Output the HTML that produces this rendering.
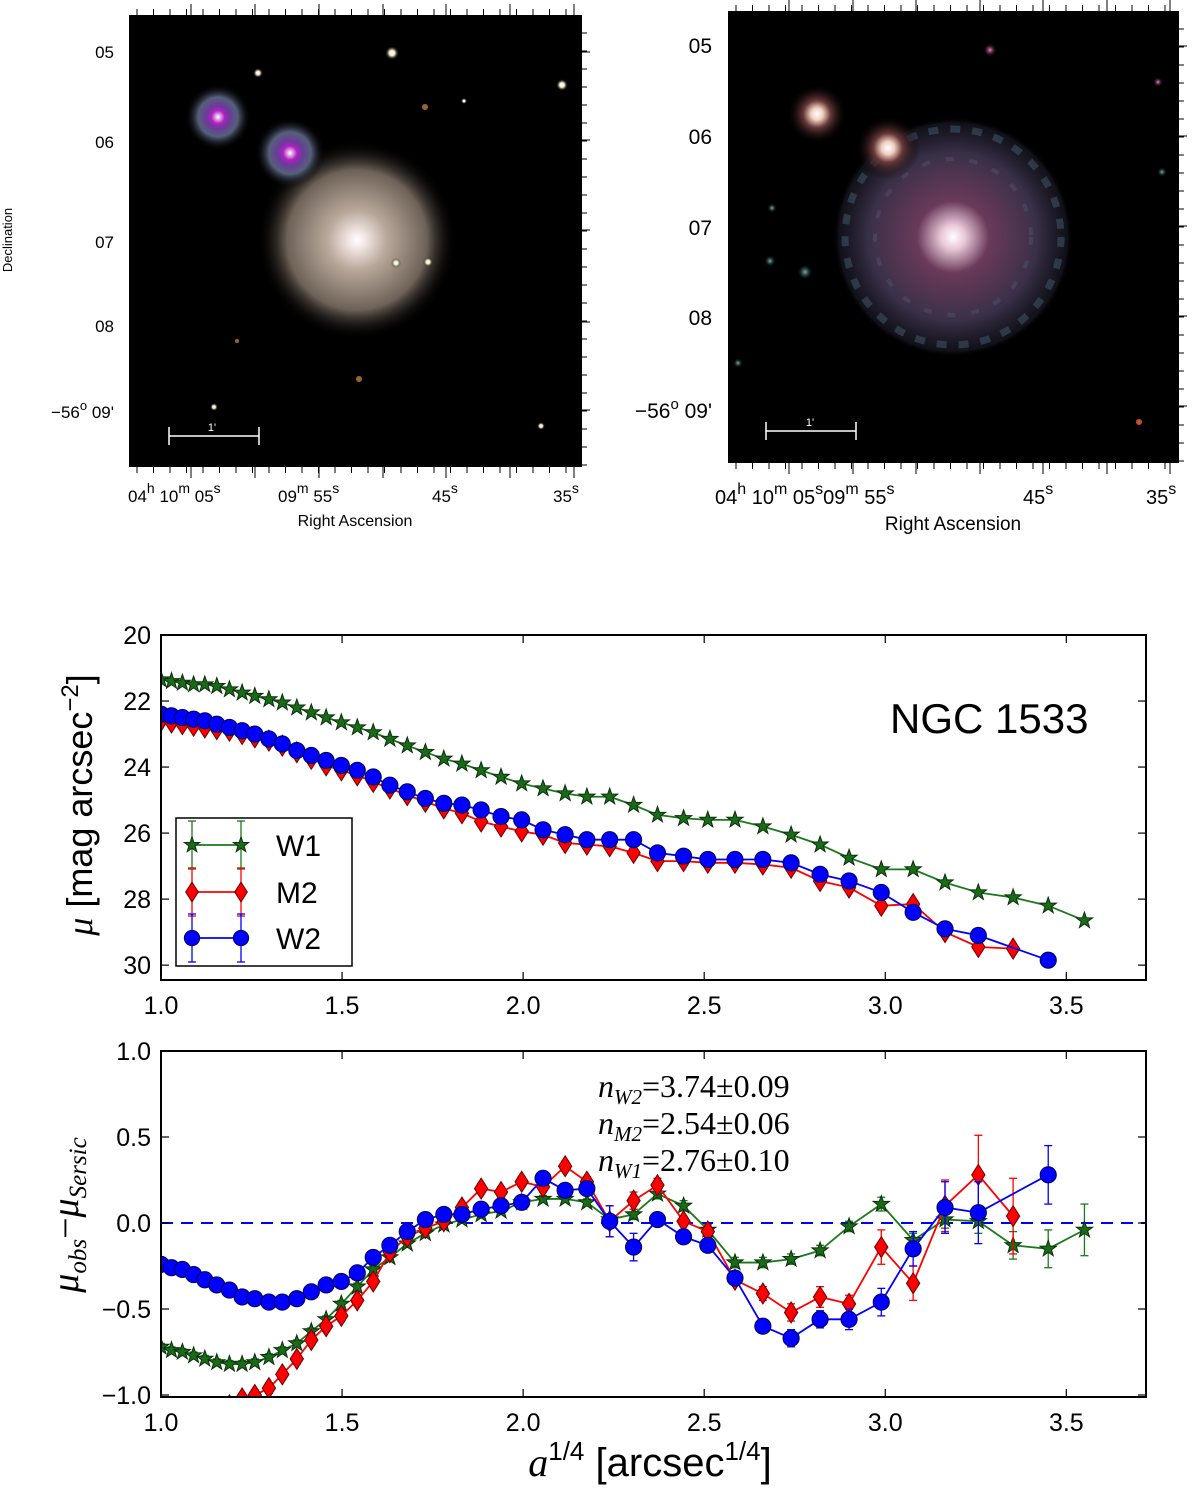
<!DOCTYPE html>
<html><head><meta charset="utf-8"><style>
html,body{margin:0;padding:0;background:#fff;}
svg{display:block;}
text{font-family:"Liberation Sans",sans-serif;}
text.serif{font-family:"Liberation Serif",serif;}
</style></head><body>
<svg id="fig" width="1200" height="1492" viewBox="0 0 1200 1492" xmlns="http://www.w3.org/2000/svg">
<defs>
<radialGradient id="gal1"><stop offset="0" stop-color="#fff"/><stop offset="0.08" stop-color="#f4e8e6"/><stop offset="0.3" stop-color="#b8a89a"/><stop offset="0.7" stop-color="#6e6258"/><stop offset="1" stop-color="#000" stop-opacity="0"/></radialGradient>
<radialGradient id="halo1"><stop offset="0" stop-color="#fff"/><stop offset="0.2" stop-color="#b020c0"/><stop offset="0.35" stop-color="#6a3a9a"/><stop offset="0.6" stop-color="#56607a"/><stop offset="1" stop-color="#000" stop-opacity="0"/></radialGradient>
<radialGradient id="star"><stop offset="0" stop-color="#fff"/><stop offset="0.4" stop-color="#f0e8c8"/><stop offset="1" stop-color="#000" stop-opacity="0"/></radialGradient>
<radialGradient id="gal2"><stop offset="0" stop-color="#fff"/><stop offset="0.1" stop-color="#e8c8d8"/><stop offset="0.3" stop-color="#6a3a5a"/><stop offset="0.7" stop-color="#3a3048"/><stop offset="0.95" stop-color="#223" stop-opacity="0.5"/><stop offset="1" stop-color="#000" stop-opacity="0"/></radialGradient>
<radialGradient id="halo2"><stop offset="0" stop-color="#fff"/><stop offset="0.2" stop-color="#f0d0c0"/><stop offset="0.45" stop-color="#6a3a3a"/><stop offset="1" stop-color="#000" stop-opacity="0"/></radialGradient>
<radialGradient id="mag"><stop offset="0" stop-color="#ff80d0"/><stop offset="1" stop-color="#000" stop-opacity="0"/></radialGradient>
<radialGradient id="teal"><stop offset="0" stop-color="#7ab8b0"/><stop offset="1" stop-color="#000" stop-opacity="0"/></radialGradient>
<clipPath id="clipTop"><rect x="161" y="635" width="985" height="345"/></clipPath>
<clipPath id="clipBot"><rect x="161" y="1051" width="985" height="346"/></clipPath>
</defs>

<g>
<rect x="129" y="15" width="453" height="452" fill="#000"/>
<circle cx="357" cy="240" r="100" fill="url(#gal1)"/>
<circle cx="218" cy="117" r="33" fill="url(#halo1)"/>
<circle cx="290" cy="153" r="35" fill="url(#halo1)"/>
<circle cx="392" cy="53" r="7" fill="url(#star)"/>
<circle cx="258" cy="73" r="5" fill="url(#star)"/>
<circle cx="562" cy="85" r="6" fill="url(#star)"/>
<circle cx="396" cy="263" r="5" fill="url(#star)"/>
<circle cx="428" cy="262" r="5" fill="url(#star)"/>
<circle cx="464" cy="101" r="3" fill="url(#star)"/>
<circle cx="425" cy="107" r="3" fill="#a06030"/>
<circle cx="237" cy="341" r="2" fill="#a06030"/>
<circle cx="359" cy="379" r="3" fill="#a06030"/>
<circle cx="214" cy="407" r="4" fill="url(#star)"/>
<circle cx="541" cy="426" r="4" fill="url(#star)"/>
<g stroke="#fff" stroke-width="1.5"><line x1="169" y1="436" x2="259" y2="436"/><line x1="169" y1="427" x2="169" y2="445"/><line x1="259" y1="427" x2="259" y2="445"/></g>
<text x="212" y="431" fill="#fff" font-size="11" text-anchor="middle">1'</text>
<g id="ticksL" stroke="#000" stroke-width="1"></g>
<g font-size="17" fill="#000" text-anchor="end">
<text x="114" y="58">05</text><text x="114" y="148">06</text><text x="114" y="248">07</text><text x="114" y="332">08</text><text x="114" y="418">−56<tspan dy="-8" font-size="13">o</tspan><tspan dy="8"> 09'</tspan></text>
</g>
<g font-size="17" fill="#000">
<text x="128" y="502">04<tspan dy="-9" font-size="14">h</tspan><tspan dy="9"> 10</tspan><tspan dy="-9" font-size="14">m</tspan><tspan dy="9"> 05</tspan><tspan dy="-9" font-size="14">s</tspan></text>
<text x="278" y="502">09<tspan dy="-9" font-size="14">m</tspan><tspan dy="9"> 55</tspan><tspan dy="-9" font-size="14">s</tspan></text>
<text x="432" y="502">45<tspan dy="-9" font-size="14">s</tspan></text>
<text x="553" y="502">35<tspan dy="-9" font-size="14">s</tspan></text>
</g>
<text x="355" y="526" font-size="16" text-anchor="middle">Right Ascension</text>
<text transform="translate(12,240) rotate(-90)" font-size="13" text-anchor="middle">Declination</text>
</g>

<g>
<rect x="728" y="11" width="451" height="452" fill="#000"/>
<circle cx="953" cy="237" r="120" fill="url(#gal2)"/>
<circle cx="953" cy="237" r="108" fill="none" stroke="#5a7a90" stroke-width="7" stroke-dasharray="10 12" opacity="0.35"/>
<circle cx="953" cy="237" r="78" fill="none" stroke="#5a6a88" stroke-width="4" stroke-dasharray="8 16" opacity="0.3"/>
<circle cx="817" cy="114" r="30" fill="url(#halo2)"/>
<circle cx="888" cy="148" r="32" fill="url(#halo2)"/>
<circle cx="990" cy="50" r="7" fill="url(#mag)"/>
<circle cx="1158" cy="82" r="5" fill="url(#mag)"/>
<circle cx="770" cy="261" r="6" fill="url(#teal)"/>
<circle cx="805" cy="272" r="8" fill="url(#teal)"/>
<circle cx="738" cy="363" r="5" fill="url(#teal)"/>
<circle cx="772" cy="208" r="5" fill="url(#teal)"/>
<circle cx="1162" cy="172" r="5" fill="url(#teal)"/>
<circle cx="1139" cy="422" r="3" fill="#c05030"/>
<g stroke="#fff" stroke-width="1.5"><line x1="766" y1="431" x2="856" y2="431"/><line x1="766" y1="422" x2="766" y2="440"/><line x1="856" y1="422" x2="856" y2="440"/></g>
<text x="810" y="426" fill="#fff" font-size="11" text-anchor="middle">1'</text>
<g id="ticksR" stroke="#000" stroke-width="1"></g>
<g font-size="21" fill="#000" text-anchor="end">
<text x="712" y="53">05</text><text x="712" y="144">06</text><text x="712" y="235">07</text><text x="712" y="325">08</text><text x="712" y="418">−56<tspan dy="-9" font-size="15">o</tspan><tspan dy="9">  09'</tspan></text>
</g>
<g font-size="20" fill="#000">
<text x="715" y="504">04<tspan dy="-10" font-size="16">h</tspan><tspan dy="10"> 10</tspan><tspan dy="-10" font-size="16">m</tspan><tspan dy="10"> 05</tspan><tspan dy="-10" font-size="16">s</tspan><tspan dy="10">09</tspan><tspan dy="-10" font-size="16">m</tspan><tspan dy="10"> 55</tspan><tspan dy="-10" font-size="16">s</tspan></text>
<text x="1023" y="504">45<tspan dy="-10" font-size="16">s</tspan></text>
<text x="1146" y="504">35<tspan dy="-10" font-size="16">s</tspan></text>
</g>
<text x="953" y="530" font-size="19" text-anchor="middle">Right Ascension</text>
</g>

<g id="topPlot"></g>
<g id="botPlot"></g>

<text x="890" y="733" font-size="42">NGC 1533</text>
<text transform="translate(92,805) rotate(-90)" font-size="36" text-anchor="middle"><tspan font-family="Liberation Serif" font-style="italic">μ</tspan> [mag arcsec<tspan dy="-14" font-size="24">−2</tspan><tspan dy="14">]</tspan></text>
<text class="serif" transform="translate(78,1215) rotate(-90)" font-size="38" text-anchor="middle" font-style="italic">μ<tspan dy="8" font-size="25">obs</tspan><tspan dy="-8" font-style="normal">−</tspan>μ<tspan dy="8" font-size="25">Sersic</tspan></text>
<text x="650" y="1476" font-size="40" text-anchor="middle"><tspan font-family="Liberation Serif" font-style="italic">a</tspan><tspan dy="-16" font-size="26">1/4</tspan><tspan dy="16"> [arcsec</tspan><tspan dy="-16" font-size="26">1/4</tspan><tspan dy="16">]</tspan></text>
<g font-size="32">
<text class="serif" x="598" y="1097"><tspan font-style="italic">n</tspan><tspan dy="7" font-size="21" font-style="italic">W2</tspan><tspan dy="-7">=3.74±0.09</tspan></text>
<text class="serif" x="598" y="1134"><tspan font-style="italic">n</tspan><tspan dy="7" font-size="21" font-style="italic">M2</tspan><tspan dy="-7">=2.54±0.06</tspan></text>
<text class="serif" x="598" y="1171"><tspan font-style="italic">n</tspan><tspan dy="7" font-size="21" font-style="italic">W1</tspan><tspan dy="-7">=2.76±0.10</tspan></text>
</g>

<g>
<rect x="176" y="818" width="176" height="148" fill="#fff" stroke="#000" stroke-width="1.5"/>
<g id="legendMarks"></g>
<text x="276" y="856" font-size="30">W1</text>
<text x="276" y="903" font-size="30">M2</text>
<text x="276" y="949" font-size="30">W2</text>
</g>
</svg>
<script>
const xs = [1.0,1.029,1.059,1.09,1.121,1.154,1.189,1.224,1.259,1.298,1.335,1.375,1.415,1.456,1.498,1.542,1.586,1.632,1.68,1.73,1.781,1.831,1.884,1.939,1.996,2.055,2.116,2.176,2.239,2.305,2.371,2.443,2.51,2.585,2.662,2.74,2.82,2.90,2.989,3.077,3.165,3.257,3.353,3.45,3.55];
const muW1 = [21.35,21.4,21.45,21.5,21.5,21.55,21.65,21.75,21.85,21.95,22.05,22.2,22.35,22.5,22.65,22.8,22.95,23.15,23.35,23.55,23.75,23.9,24.1,24.3,24.5,24.65,24.8,24.9,24.9,25.15,25.45,25.55,25.6,25.6,25.8,26.05,26.35,26.75,27.1,27.1,27.5,27.8,27.95,28.2,28.65];
const muM2 = [22.6,22.65,22.7,22.75,22.8,22.85,22.9,23.0,23.1,23.2,23.35,23.55,23.75,23.95,24.1,24.25,24.45,24.65,24.85,25.05,25.25,25.4,25.65,25.8,25.95,26.05,26.3,26.35,26.4,26.6,26.85,26.85,26.9,26.9,26.95,27.05,27.45,27.65,28.2,28.15,29.0,29.45,29.5,null,null];
const muW2 = [22.4,22.45,22.5,22.55,22.6,22.7,22.8,22.9,23.0,23.15,23.3,23.5,23.65,23.8,23.95,24.1,24.3,24.55,24.75,24.95,25.1,25.15,25.3,25.5,25.6,25.9,26.05,26.2,26.2,26.2,26.6,26.7,26.8,26.8,26.8,26.9,27.25,27.45,27.8,28.4,28.9,29.1,null,29.85,null];
const resW1 = [-0.72,-0.74,-0.75,-0.77,-0.79,-0.81,-0.82,-0.82,-0.81,-0.78,-0.74,-0.70,-0.63,-0.56,-0.47,-0.37,-0.27,-0.20,-0.12,-0.06,-0.01,0.02,0.05,0.07,0.12,0.14,0.14,0.12,0.02,0.05,0.17,0.10,-0.04,-0.23,-0.23,-0.21,-0.16,-0.02,0.11,-0.10,0.02,0.01,-0.13,-0.15,-0.04];
const errW1 = [0.02,0.02,0.02,0.02,0.02,0.02,0.02,0.02,0.02,0.02,0.02,0.02,0.02,0.02,0.02,0.02,0.02,0.02,0.02,0.02,0.02,0.02,0.02,0.02,0.02,0.02,0.02,0.02,0.03,0.03,0.03,0.03,0.03,0.03,0.03,0.03,0.03,0.03,0.04,0.04,0.05,0.07,0.08,0.11,0.15];
const resM2 = [-1.4,-1.35,-1.3,-1.25,-1.18,-1.12,-1.06,-1.02,-1.0,-0.96,-0.88,-0.79,-0.68,-0.60,-0.54,-0.45,-0.34,-0.17,-0.08,-0.03,0.01,0.09,0.20,0.18,0.24,0.21,0.33,0.24,0.01,0.13,0.22,0.01,-0.05,-0.33,-0.41,-0.52,-0.43,-0.47,-0.14,-0.35,0.10,0.28,0.04,null,null];
const errM2 = [0.03,0.03,0.03,0.03,0.03,0.03,0.03,0.03,0.03,0.03,0.03,0.03,0.03,0.03,0.03,0.03,0.03,0.03,0.03,0.03,0.03,0.03,0.03,0.03,0.03,0.03,0.03,0.03,0.09,0.05,0.04,0.03,0.03,0.03,0.04,0.05,0.06,0.05,0.1,0.1,0.15,0.23,0.22,0,0];
const resW2 = [-0.24,-0.26,-0.27,-0.30,-0.33,-0.36,-0.39,-0.43,-0.44,-0.46,-0.46,-0.44,-0.40,-0.36,-0.34,-0.29,-0.20,-0.13,-0.05,0.02,0.05,0.05,0.08,0.10,0.12,0.26,0.19,0.20,0.01,-0.14,0.02,-0.08,-0.13,-0.32,-0.60,-0.67,-0.56,-0.56,-0.46,-0.15,0.09,0.06,null,0.28,null];
const errW2 = [0.02,0.02,0.02,0.02,0.02,0.02,0.02,0.02,0.02,0.02,0.02,0.02,0.02,0.02,0.02,0.02,0.02,0.02,0.02,0.02,0.02,0.02,0.02,0.02,0.02,0.02,0.02,0.02,0.09,0.08,0.03,0.03,0.03,0.03,0.03,0.05,0.05,0.06,0.08,0.1,0.15,0.18,0,0.17,0];
const xTicks = [1.0,1.5,2.0,2.5,3.0,3.5];
const xTickLabels = ["1.0","1.5","2.0","2.5","3.0","3.5"];
const muTicks = [20,22,24,26,28,30];
const resTicks = [1.0,0.5,0.0,-0.5,-1.0];
const resTickLabels = ["1.0","0.5","0.0","−0.5","−1.0"];

const NS = "http://www.w3.org/2000/svg";
function mk(tag, attrs, parent){const e=document.createElementNS(NS,tag);for(const k in attrs)e.setAttribute(k,attrs[k]);parent.appendChild(e);return e;}
const X0=161,X1=1146;
const xScale = v => X0 + (v-1.0)/(3.72-1.0)*(X1-X0);
const yTop = v => 635 + (v-20)/(30.45-20)*(980-635);
const yBot = v => 1223 - v*172;
const COL = {W1:"#1a7a1a",M2:"#ff0000",W2:"#0000ff"};

function marker(kind, cx, cy, parent, s){
  s = s||1; let e;
  if(kind==="W1"){
    let pts=[];for(let i=0;i<10;i++){const r=(i%2?3.6:9)*s,a=-Math.PI/2+i*Math.PI/5;pts.push((cx+r*Math.cos(a)).toFixed(1)+","+(cy+r*Math.sin(a)).toFixed(1));}
    e=mk("polygon",{points:pts.join(" "),fill:"#1a6a1a",stroke:"#0a300a","stroke-width":1},parent);
  } else if(kind==="M2"){
    e=mk("polygon",{points:`${cx},${cy-11*s} ${cx+7*s},${cy} ${cx},${cy+11*s} ${cx-7*s},${cy}`,fill:"#ff0000",stroke:"#600","stroke-width":1},parent);
  } else {
    e=mk("circle",{cx:cx,cy:cy,r:8.5*s,fill:"#0000ff",stroke:"#000050","stroke-width":1},parent);
  }
  return e;
}

function drawAxes(g, y0, y1, yTicks, yLabels, yFn){
  const fr=mk("rect",{x:X0,y:y0,width:X1-X0,height:y1-y0,fill:"none",stroke:"#000","stroke-width":2},g);
  
  
  xTicks.forEach((t,i)=>{
    const x=xScale(t);
    mk("line",{x1:x,y1:y1,x2:x,y2:y1-8,stroke:"#000","stroke-width":1.2},g);
    mk("line",{x1:x,y1:y0,x2:x,y2:y0+8,stroke:"#000","stroke-width":1.2},g);
    const tx=mk("text",{x:x,y:y1+34,"font-size":25,"text-anchor":"middle"},g);tx.textContent=xTickLabels[i];
    
    
  });
  yTicks.forEach((t,i)=>{
    const y=yFn(t);
    mk("line",{x1:X0,y1:y,x2:X0+8,y2:y,stroke:"#000","stroke-width":1.2},g);
    mk("line",{x1:X1,y1:y,x2:X1-8,y2:y,stroke:"#000","stroke-width":1.2},g);
    const tx=mk("text",{x:151,y:y+9,"font-size":25,"text-anchor":"end"},g);tx.textContent=yLabels[i];
    
    
  });
}

function drawSeries(g, key, vals, errs, yFn, clip, scale){
  const sg=mk("g",{"clip-path":`url(#${clip})`},g);
  
  
  let cur=[];
  vals.forEach((v,i)=>{if(v===null){return;}cur.push([xScale(xs[i]),yFn(v)]);});
  const pl=mk("polyline",{points:cur.map(p=>p.join(",")).join(" "),fill:"none",stroke:COL[key],"stroke-width":1.8},sg);
  
  
  vals.forEach((v,i)=>{
    if(v===null)return;
    const cx=xScale(xs[i]),cy=yFn(v);
    if(errs&&errs[i]>0){
      const e=errs[i];const y1=yFn(v+e),y2=yFn(v-e);
      mk("line",{x1:cx,y1:y1,x2:cx,y2:y2,stroke:COL[key],"stroke-width":1.3},sg);
      mk("line",{x1:cx-4,y1:y1,x2:cx+4,y2:y1,stroke:COL[key],"stroke-width":1.3},sg);
      mk("line",{x1:cx-4,y1:y2,x2:cx+4,y2:y2,stroke:COL[key],"stroke-width":1.3},sg);
    }
    const m=marker(key,cx,cy,sg,scale);
    
    
  });
}

const topPlot=document.getElementById("topPlot");
const botPlot=document.getElementById("botPlot");
drawSeries(topPlot,"W1",muW1,null,yTop,"clipTop",0.95);
drawSeries(topPlot,"M2",muM2,null,yTop,"clipTop",0.95);
drawSeries(topPlot,"W2",muW2,null,yTop,"clipTop",0.95);
drawAxes(topPlot,635,980,muTicks,muTicks.map(String),yTop);

const zl=mk("line",{x1:X0,y1:yBot(0),x2:X1,y2:yBot(0),stroke:"#0000ff","stroke-width":2,"stroke-dasharray":"12 8"},botPlot);


drawSeries(botPlot,"W1",resW1,errW1,yBot,"clipBot",0.95);
drawSeries(botPlot,"M2",resM2,errM2,yBot,"clipBot",0.95);
drawSeries(botPlot,"W2",resW2,errW2,yBot,"clipBot",0.95);
drawAxes(botPlot,1051,1397,resTicks,resTickLabels,yBot);

const lg=document.getElementById("legendMarks");
[["W1",845],["M2",892],["W2",938]].forEach(([k,y])=>{
  mk("line",{x1:192,y1:y,x2:241,y2:y,stroke:COL[k],"stroke-width":1.8},lg);
  [192,241].forEach(x=>{
    mk("line",{x1:x,y1:y-24,x2:x,y2:y+24,stroke:COL[k],"stroke-width":1.3},lg);
    mk("line",{x1:x-4,y1:y-24,x2:x+4,y2:y-24,stroke:COL[k],"stroke-width":1.3},lg);
    mk("line",{x1:x-4,y1:y+24,x2:x+4,y2:y+24,stroke:COL[k],"stroke-width":1.3},lg);
    const m=marker(k,x,y,lg,0.9);
    
    
  });
});

function frameTicks(id,x0,y0,x1,y1,majX,majY){
  const g=document.getElementById(id);
  for(let x=x0+8;x<x1;x+=16.5){
    mk("line",{x1:x,y1:y0,x2:x,y2:y0-6,stroke:"#000"},g);
    mk("line",{x1:x,y1:y1,x2:x,y2:y1+6,stroke:"#000"},g);
  }
  majX.forEach(x=>{mk("line",{x1:x,y1:y1,x2:x,y2:y1+11,stroke:"#000"},g);mk("line",{x1:x,y1:y0,x2:x,y2:y0-11,stroke:"#000"},g);});
  majY.forEach(y=>{mk("line",{x1:x1,y1:y,x2:x1+8,y2:y,stroke:"#000"},g);});
  for(let y=y0+18;y<y1;y+=18){mk("line",{x1:x1,y1:y,x2:x1+5,y2:y,stroke:"#000"},g);}
}
frameTicks("ticksL",129,15,582,467,[191,255,319,383,446,510,574],[52,140,230,322,410]);
frameTicks("ticksR",728,11,1179,463,[789,853,916,980,1043,1107,1170],[46,136,226,316,406]);
</script>
</body></html>
